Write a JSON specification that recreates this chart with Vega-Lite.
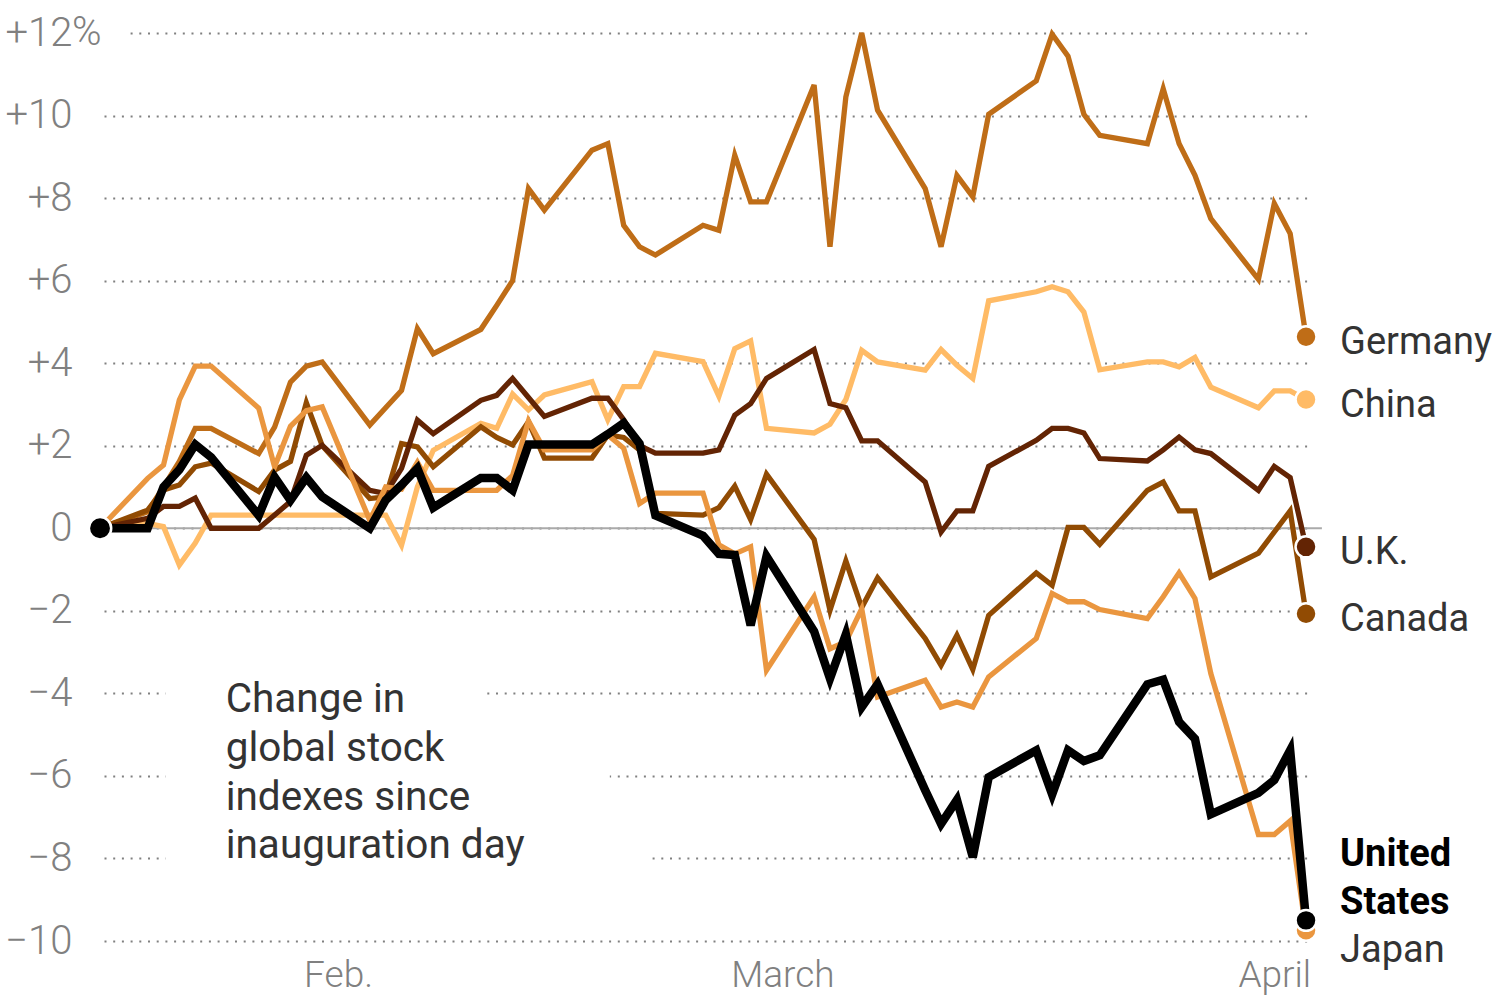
{
  "$schema": "https://vega.github.io/schema/vega-lite/v6.json",
  "autosize": {"type": "none"},
  "padding": {"left": 104, "top": 33, "right": 190, "bottom": 59},
  "width": 1206,
  "height": 908,
  "background": "white",
  "config": {"view": {"stroke": null}, "font": "Roboto"},
  "datasets": {
    "stocks": [
      {"d": "2025-01-17", "Germany": 0, "China": 0, "UK": 0, "Canada": 0, "Japan": 0, "US": 0},
      {"d": "2025-01-20", "Germany": 0.4, "China": 0.12, "UK": 0.24, "Canada": 0.44, "Japan": 1.21, "US": 0},
      {"d": "2025-01-21", "Germany": 1.0, "China": 0.04, "UK": 0.53, "Canada": 0.93, "Japan": 1.53, "US": 1.0},
      {"d": "2025-01-22", "Germany": 1.62, "China": -0.89, "UK": 0.53, "Canada": 1.05, "Japan": 3.11, "US": 1.42},
      {"d": "2025-01-23", "Germany": 2.42, "China": -0.36, "UK": 0.73, "Canada": 1.49, "Japan": 3.93, "US": 2.03},
      {"d": "2025-01-24", "Germany": 2.42, "China": 0.32, "UK": 0.0, "Canada": 1.58, "Japan": 3.93, "US": 1.72},
      {"d": "2025-01-27", "Germany": 1.81, "China": 0.32, "UK": 0.0, "Canada": 0.89, "Japan": 2.91, "US": 0.31},
      {"d": "2025-01-28", "Germany": 2.45, "China": 0.32, "UK": 0.32, "Canada": 1.41, "Japan": 1.49, "US": 1.24},
      {"d": "2025-01-29", "Germany": 3.54, "China": 0.32, "UK": 0.65, "Canada": 1.62, "Japan": 2.47, "US": 0.68},
      {"d": "2025-01-30", "Germany": 3.93, "China": 0.32, "UK": 1.77, "Canada": 3.04, "Japan": 2.85, "US": 1.23},
      {"d": "2025-01-31", "Germany": 4.03, "China": 0.32, "UK": 2.01, "Canada": 2.0, "Japan": 2.94, "US": 0.76},
      {"d": "2025-02-03", "Germany": 2.5, "China": 0.32, "UK": 0.92, "Canada": 0.72, "Japan": 0.19, "US": 0.0},
      {"d": "2025-02-04", "Germany": 2.92, "China": 0.32, "UK": 0.84, "Canada": 0.76, "Japan": 1.0, "US": 0.68},
      {"d": "2025-02-05", "Germany": 3.34, "China": -0.41, "UK": 1.45, "Canada": 2.05, "Japan": 0.95, "US": 1.05},
      {"d": "2025-02-06", "Germany": 4.84, "China": 1.0, "UK": 2.62, "Canada": 1.97, "Japan": 1.6, "US": 1.45},
      {"d": "2025-02-07", "Germany": 4.23, "China": 1.89, "UK": 2.29, "Canada": 1.49, "Japan": 0.92, "US": 0.5},
      {"d": "2025-02-10", "Germany": 4.82, "China": 2.54, "UK": 3.1, "Canada": 2.46, "Japan": 0.92, "US": 1.22},
      {"d": "2025-02-11", "Germany": 5.4, "China": 2.42, "UK": 3.22, "Canada": 2.2, "Japan": 0.92, "US": 1.22},
      {"d": "2025-02-12", "Germany": 6.0, "China": 3.25, "UK": 3.63, "Canada": 2.02, "Japan": 1.28, "US": 0.92},
      {"d": "2025-02-13", "Germany": 8.23, "China": 2.87, "UK": 3.17, "Canada": 2.58, "Japan": 2.6, "US": 2.03},
      {"d": "2025-02-14", "Germany": 7.71, "China": 3.23, "UK": 2.71, "Canada": 1.7, "Japan": 1.9, "US": 2.03},
      {"d": "2025-02-17", "Germany": 9.16, "China": 3.55, "UK": 3.15, "Canada": 1.7, "Japan": 1.9, "US": 2.03},
      {"d": "2025-02-18", "Germany": 9.32, "China": 2.63, "UK": 3.15, "Canada": 2.26, "Japan": 2.26, "US": 2.28},
      {"d": "2025-02-19", "Germany": 7.34, "China": 3.43, "UK": 2.63, "Canada": 2.2, "Japan": 1.94, "US": 2.55},
      {"d": "2025-02-20", "Germany": 6.82, "China": 3.43, "UK": 2.0, "Canada": 1.9, "Japan": 0.6, "US": 2.05},
      {"d": "2025-02-21", "Germany": 6.62, "China": 4.24, "UK": 1.82, "Canada": 0.36, "Japan": 0.85, "US": 0.31},
      {"d": "2025-02-24", "Germany": 7.34, "China": 4.04, "UK": 1.82, "Canada": 0.32, "Japan": 0.85, "US": -0.18},
      {"d": "2025-02-25", "Germany": 7.22, "China": 3.2, "UK": 1.9, "Canada": 0.5, "Japan": -0.4, "US": -0.62},
      {"d": "2025-02-26", "Germany": 9.04, "China": 4.35, "UK": 2.74, "Canada": 1.02, "Japan": -0.62, "US": -0.65},
      {"d": "2025-02-27", "Germany": 7.91, "China": 4.54, "UK": 3.02, "Canada": 0.21, "Japan": -0.45, "US": -2.35},
      {"d": "2025-02-28", "Germany": 7.91, "China": 2.42, "UK": 3.63, "Canada": 1.31, "Japan": -3.44, "US": -0.68},
      {"d": "2025-03-03", "Germany": 10.74, "China": 2.31, "UK": 4.33, "Canada": -0.27, "Japan": -1.66, "US": -2.5},
      {"d": "2025-03-04", "Germany": 6.82, "China": 2.52, "UK": 3.02, "Canada": -1.99, "Japan": -2.92, "US": -3.64},
      {"d": "2025-03-05", "Germany": 10.45, "China": 3.12, "UK": 2.92, "Canada": -0.79, "Japan": -2.75, "US": -2.57},
      {"d": "2025-03-06", "Germany": 12.0, "China": 4.31, "UK": 2.12, "Canada": -1.92, "Japan": -1.95, "US": -4.33},
      {"d": "2025-03-07", "Germany": 10.13, "China": 4.03, "UK": 2.12, "Canada": -1.2, "Japan": -4.09, "US": -3.78},
      {"d": "2025-03-10", "Germany": 8.23, "China": 3.83, "UK": 1.12, "Canada": -2.67, "Japan": -3.68, "US": -6.35},
      {"d": "2025-03-11", "Germany": 6.82, "China": 4.33, "UK": -0.09, "Canada": -3.32, "Japan": -4.33, "US": -7.16},
      {"d": "2025-03-12", "Germany": 8.55, "China": 3.95, "UK": 0.42, "Canada": -2.59, "Japan": -4.21, "US": -6.58},
      {"d": "2025-03-13", "Germany": 8.03, "China": 3.63, "UK": 0.42, "Canada": -3.42, "Japan": -4.33, "US": -7.97},
      {"d": "2025-03-14", "Germany": 10.03, "China": 5.51, "UK": 1.5, "Canada": -2.11, "Japan": -3.6, "US": -6.03},
      {"d": "2025-03-17", "Germany": 10.84, "China": 5.73, "UK": 2.13, "Canada": -1.08, "Japan": -2.67, "US": -5.38},
      {"d": "2025-03-18", "Germany": 11.97, "China": 5.85, "UK": 2.42, "Canada": -1.38, "Japan": -1.58, "US": -6.45},
      {"d": "2025-03-19", "Germany": 11.44, "China": 5.73, "UK": 2.42, "Canada": 0.02, "Japan": -1.78, "US": -5.38},
      {"d": "2025-03-20", "Germany": 10.03, "China": 5.24, "UK": 2.31, "Canada": 0.02, "Japan": -1.78, "US": -5.64},
      {"d": "2025-03-21", "Germany": 9.52, "China": 3.84, "UK": 1.69, "Canada": -0.39, "Japan": -1.97, "US": -5.5},
      {"d": "2025-03-24", "Germany": 9.32, "China": 4.03, "UK": 1.63, "Canada": 0.92, "Japan": -2.19, "US": -3.78},
      {"d": "2025-03-25", "Germany": 10.65, "China": 4.03, "UK": 1.9, "Canada": 1.12, "Japan": -1.66, "US": -3.67},
      {"d": "2025-03-26", "Germany": 9.32, "China": 3.91, "UK": 2.21, "Canada": 0.42, "Japan": -1.08, "US": -4.69},
      {"d": "2025-03-27", "Germany": 8.55, "China": 4.14, "UK": 1.9, "Canada": 0.42, "Japan": -1.7, "US": -5.1},
      {"d": "2025-03-28", "Germany": 7.5, "China": 3.42, "UK": 1.81, "Canada": -1.18, "Japan": -3.52, "US": -6.93},
      {"d": "2025-03-31", "Germany": 6.03, "China": 2.92, "UK": 0.92, "Canada": -0.6, "Japan": -7.42, "US": -6.41},
      {"d": "2025-04-01", "Germany": 7.87, "China": 3.33, "UK": 1.5, "Canada": -0.09, "Japan": -7.42, "US": -6.1},
      {"d": "2025-04-02", "Germany": 7.14, "China": 3.33, "UK": 1.23, "Canada": 0.42, "Japan": -7.09, "US": -5.38},
      {"d": "2025-04-03", "Germany": 4.64, "China": 3.12, "UK": -0.45, "Canada": -2.07, "Japan": -9.74, "US": -9.5}
    ],
    "names": [
      {"country": "Germany", "label": "Germany"},
      {"country": "China", "label": "China"},
      {"country": "UK", "label": "U.K."},
      {"country": "Canada", "label": "Canada"}
    ],
    "mask": [
      {"g": 12, "a": "2025-01-17T00:00:00Z", "b": "2025-01-18T14:00:00Z"},
      {"g": -4, "a": "2025-01-21T03:00:00Z", "b": "2025-02-10T06:00:00Z"},
      {"g": -6, "a": "2025-01-21T03:00:00Z", "b": "2025-02-18T03:00:00Z"},
      {"g": -8, "a": "2025-01-21T03:00:00Z", "b": "2025-02-20T16:00:00Z"}
    ],
    "annotation": [
      {"text": ["Change in", "global stock", "indexes since", "inauguration day"]}
    ]
  },
  "layer": [
    {
      "data": {"name": "mask"},
      "mark": {"type": "rule", "color": "white", "strokeWidth": 7},
      "encoding": {
        "x": {
          "field": "a", "type": "temporal", "title": null,
          "scale": {"type": "utc", "domain": [{"year": 2025, "month": 1, "date": 17, "hours": 6, "utc": true}, {"year": 2025, "month": 4, "date": 3, "hours": 6, "utc": true}]},
          "axis": {
            "values": [{"year": 2025, "month": 2, "date": 1, "utc": true}, {"year": 2025, "month": 3, "date": 1, "utc": true}, {"year": 2025, "month": 4, "date": 1, "utc": true}],
            "labelExpr": "utcmonth(datum.value) == 1 ? 'Feb.' : utcmonth(datum.value) == 2 ? 'March' : 'April'",
            "grid": false, "domain": false, "ticks": false,
            "labelPadding": 16, "labelFontSize": 37, "labelColor": "#808080", "labelFontWeight": 300, "labelFont": "Roboto"
          }
        },
        "x2": {"field": "b"},
        "y": {
          "field": "g", "type": "quantitative", "title": null,
          "scale": {"domain": [-10, 12], "nice": false, "zero": false},
          "axis": {
            "values": [-10, -8, -6, -4, -2, 0, 2, 4, 6, 8, 10, 12],
            "labelExpr": "datum.value > 0 ? '+' + datum.value : datum.value < 0 ? '\u2212' + abs(datum.value) : '0'",
            "grid": true, "gridColor": "#808080", "gridDash": [2, 6.7], "gridWidth": 2,
            "domain": false, "ticks": false,
            "labelPadding": 32, "labelFontSize": 40, "labelColor": "#808080", "labelFontWeight": 300, "labelFont": "Roboto"
          }
        }
      }
    },
    {
      "data": {"name": "annotation"},
      "mark": {"type": "rule", "color": "#aaaaaa", "strokeWidth": 2},
      "encoding": {
        "x": {"datum": {"year": 2025, "month": 1, "date": 17, "utc": true}, "type": "temporal"},
        "x2": {"datum": {"year": 2025, "month": 4, "date": 4, "utc": true}},
        "y": {"datum": 0, "type": "quantitative"}
      }
    },
    {
      "data": {"name": "stocks"},
      "transform": [{"fold": ["China", "Germany", "Canada", "UK", "Japan"], "as": ["country", "value"]}],
      "mark": {"type": "line", "strokeWidth": 5.3},
      "encoding": {
        "x": {"field": "d", "type": "temporal", "title": null},
        "y": {"field": "value", "type": "quantitative", "title": null},
        "color": {
          "field": "country", "type": "nominal", "legend": null,
          "scale": {"domain": ["China", "Germany", "Canada", "UK", "Japan", "US"], "range": ["#ffbb66", "#bf6d17", "#914b03", "#632404", "#ea963f", "#000000"]}
        }
      }
    },
    {
      "data": {"name": "stocks"},
      "mark": {"type": "line", "strokeWidth": 8.5, "color": "#000000"},
      "encoding": {
        "x": {"field": "d", "type": "temporal", "title": null},
        "y": {"field": "US", "type": "quantitative", "title": null}
      }
    },
    {
      "data": {"name": "stocks"},
      "transform": [
        {"fold": ["China", "Germany", "Canada", "UK", "Japan", "US"], "as": ["country", "value"]},
        {"filter": "utcmonth(datum.d) == 3 && utcdate(datum.d) == 3"}
      ],
      "mark": {"type": "point", "shape": "circle", "filled": true, "size": 440, "strokeWidth": 2.5, "opacity": 1},
      "encoding": {
        "x": {"field": "d", "type": "temporal", "title": null},
        "y": {"field": "value", "type": "quantitative", "title": null},
        "color": {"field": "country", "type": "nominal", "legend": null},
        "stroke": {"value": "white"}
      }
    },
    {
      "data": {"name": "stocks"},
      "transform": [{"filter": "utcmonth(datum.d) == 0 && utcdate(datum.d) == 17"}],
      "mark": {"type": "point", "shape": "circle", "filled": true, "size": 500, "color": "#000000", "stroke": "white", "strokeWidth": 2.5, "opacity": 1},
      "encoding": {
        "x": {"field": "d", "type": "temporal", "title": null},
        "y": {"field": "US", "type": "quantitative", "title": null}
      }
    },
    {
      "data": {"name": "stocks"},
      "transform": [
        {"fold": ["Germany", "China", "UK", "Canada"], "as": ["country", "value"]},
        {"filter": "utcmonth(datum.d) == 3 && utcdate(datum.d) == 3"},
        {"lookup": "country", "from": {"data": {"name": "names"}, "key": "country", "fields": ["label"]}}
      ],
      "mark": {"type": "text", "align": "left", "baseline": "middle", "dx": 34, "dy": 6, "fontSize": 38, "color": "#333333", "font": "Roboto"},
      "encoding": {
        "x": {"field": "d", "type": "temporal", "title": null},
        "y": {"field": "value", "type": "quantitative", "title": null},
        "text": {"field": "label"}
      }
    },
    {
      "data": {"name": "stocks"},
      "transform": [{"filter": "utcmonth(datum.d) == 3 && utcdate(datum.d) == 3"}],
      "mark": {"type": "text", "align": "left", "baseline": "top", "dx": 34, "dy": -84, "fontSize": 38, "fontWeight": "bold", "lineHeight": 48, "color": "#000000", "font": "Roboto"},
      "encoding": {
        "x": {"field": "d", "type": "temporal", "title": null},
        "y": {"field": "US", "type": "quantitative", "title": null},
        "text": {"value": ["United", "States"]}
      }
    },
    {
      "data": {"name": "stocks"},
      "transform": [{"filter": "utcmonth(datum.d) == 3 && utcdate(datum.d) == 3"}],
      "mark": {"type": "text", "align": "left", "baseline": "top", "dx": 34, "dy": 2, "fontSize": 38, "color": "#333333", "font": "Roboto"},
      "encoding": {
        "x": {"field": "d", "type": "temporal", "title": null},
        "y": {"field": "Japan", "type": "quantitative", "title": null},
        "text": {"value": "Japan"}
      }
    },
    {
      "data": {"name": "annotation"},
      "mark": {"type": "text", "align": "left", "baseline": "top", "fontSize": 40.5, "lineHeight": 48.7, "color": "#333333", "font": "Roboto"},
      "encoding": {
        "x": {"datum": {"year": 2025, "month": 1, "date": 24, "hours": 22, "utc": true}, "type": "temporal"},
        "y": {"datum": -3.68, "type": "quantitative"},
        "text": {"field": "text"}
      }
    },
    {
      "data": {"name": "annotation"},
      "mark": {"type": "text", "align": "left", "baseline": "middle", "dx": -32, "fontSize": 40, "color": "#808080", "fontWeight": 300, "font": "Roboto"},
      "encoding": {
        "x": {"datum": {"year": 2025, "month": 1, "date": 17, "hours": 6, "utc": true}, "type": "temporal"},
        "y": {"datum": 12, "type": "quantitative"},
        "text": {"value": "%"}
      }
    }
  ]
}
